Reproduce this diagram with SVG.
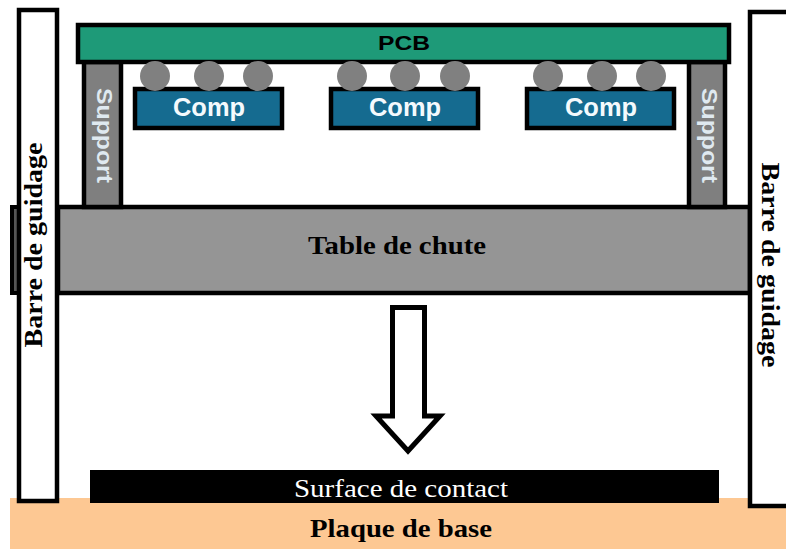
<svg xmlns="http://www.w3.org/2000/svg" width="786" height="549" viewBox="0 0 786 549">
<style>
.comp{fill:#156b90;stroke:#000;stroke-width:4.5}
.sup{fill:#7f7f7f;stroke:#000;stroke-width:4.5}
.ball{fill:#808080}
.bar{fill:#fff;stroke:#000;stroke-width:4.5}
.sans{font-family:"Liberation Sans",Arial,sans-serif;font-weight:bold}
.serif{font-family:"Liberation Serif","Times New Roman",serif;font-weight:bold}
.ct{fill:#f4fafd;font-size:25px;text-anchor:middle}
.st2{fill:#dfe9f0;font-size:22px;text-anchor:middle}
.lb{font-size:25px;text-anchor:middle;fill:#000}
</style>
<rect width="786" height="549" fill="#fff"/>
<g id="plaque"><rect x="10" y="498" width="776" height="51" fill="#fdc893"/><text class="serif lb" x="401" y="537" textLength="182" lengthAdjust="spacingAndGlyphs">Plaque de base</text></g>
<g id="surface"><rect x="90" y="470" width="629" height="33" fill="#000"/><text x="401" y="497" font-family="Liberation Serif,serif" font-size="25" fill="#fff" text-anchor="middle" textLength="214" lengthAdjust="spacingAndGlyphs">Surface de contact</text></g>
<g id="table"><rect x="12" y="207" width="8" height="86" fill="#555" stroke="#000" stroke-width="4"/><rect x="58" y="207" width="692" height="86" fill="#959595" stroke="#000" stroke-width="4.5"/><text class="serif lb" x="397" y="254" textLength="178" lengthAdjust="spacingAndGlyphs">Table de chute</text></g>
<g id="barre-gauche"><rect x="19" y="10" width="38" height="491" class="bar"/><text class="serif lb" transform="translate(42,245) rotate(-90)" textLength="205" lengthAdjust="spacingAndGlyphs">Barre de guidage</text></g>
<g id="barre-droite"><rect x="750" y="12" width="40" height="494" class="bar"/><text class="serif lb" transform="translate(762,265) rotate(90)" textLength="205" lengthAdjust="spacingAndGlyphs">Barre de guidage</text></g>
<g id="support-gauche"><rect x="84" y="62" width="37" height="145" class="sup"/><text class="sans st2" transform="translate(97,135.5) rotate(90)" textLength="95" lengthAdjust="spacingAndGlyphs">Support</text></g>
<g id="support-droite"><rect x="689" y="62" width="36" height="145" class="sup"/><text class="sans st2" transform="translate(702,135.5) rotate(90)" textLength="95" lengthAdjust="spacingAndGlyphs">Support</text></g>
<g id="pcb"><rect x="78" y="25" width="651" height="37" fill="#1e9a78" stroke="#000" stroke-width="4.5"/><text class="sans" x="404" y="50" font-size="21" fill="#000" text-anchor="middle" textLength="52" lengthAdjust="spacingAndGlyphs">PCB</text></g>
<g id="comp1"><rect x="135" y="89" width="147" height="39" class="comp"/><circle class="ball" cx="155" cy="76" r="15"/><circle class="ball" cx="209" cy="76" r="15"/><circle class="ball" cx="258" cy="76" r="15"/><text class="sans ct" x="209" y="116" textLength="72" lengthAdjust="spacingAndGlyphs">Comp</text></g>
<g id="comp2"><rect x="331" y="89" width="147" height="39" class="comp"/><circle class="ball" cx="352" cy="76" r="15"/><circle class="ball" cx="405" cy="76" r="15"/><circle class="ball" cx="455" cy="76" r="15"/><text class="sans ct" x="405" y="116" textLength="72" lengthAdjust="spacingAndGlyphs">Comp</text></g>
<g id="comp3"><rect x="527" y="89" width="147" height="39" class="comp"/><circle class="ball" cx="548" cy="76" r="15"/><circle class="ball" cx="602" cy="76" r="15"/><circle class="ball" cx="651" cy="76" r="15"/><text class="sans ct" x="601" y="116" textLength="72" lengthAdjust="spacingAndGlyphs">Comp</text></g>
<g id="connectors"><path d="M392.500 307.500H424.500V416H440L408 451L376 416H392.500Z" fill="#fff" stroke="#000" stroke-width="5"/></g>
</svg>
